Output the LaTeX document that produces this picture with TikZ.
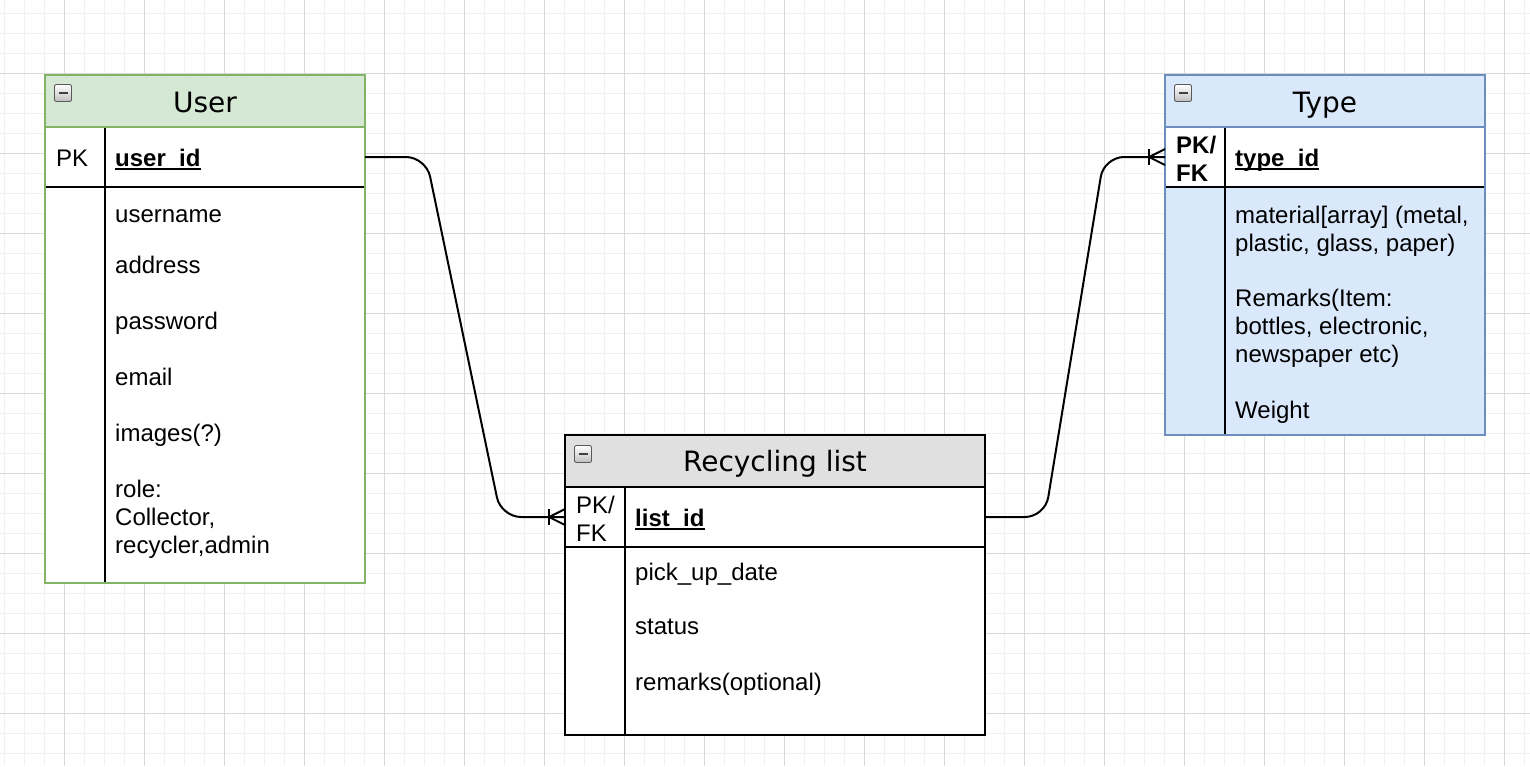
\documentclass[tikz,border=0pt]{standalone}
\usepackage{fontspec}
\setmainfont{Liberation Sans}
\newfontfamily\titlefont{DejaVu Sans}
\usetikzlibrary{calc}
\definecolor{ugreenfill}{HTML}{D5E8D4}
\definecolor{ugreenline}{HTML}{82B366}
\definecolor{tbluefill}{HTML}{DAE8FC}
\definecolor{tblueline}{HTML}{6C8EBF}
\definecolor{rgrayfill}{HTML}{E0E0E0}
\definecolor{gridminor}{HTML}{F1F1F1}
\definecolor{gridmajor}{HTML}{D9D9D9}
\newcommand\keyul[1]{\setbox0\hbox{\bfseries #1}\rlap{\rule[-3.6pt]{\wd0}{1.6pt}}\box0}
\begin{document}
\begin{tikzpicture}[x=1pt,y=-1pt,
  cell/.style={rectangle, inner sep=0pt, outer sep=0pt, anchor=north west, draw=none},
  ttl/.style={anchor=base, inner sep=0pt, font=\titlefont\fontsize{28}{33}\selectfont},
  txt/.style={anchor=base west, inner sep=0pt, font=\fontsize{24}{28}\selectfont},
  divider/.style={line width=2pt, black},
  conn/.style={line width=2pt, black, rounded corners=20pt},
  foot/.style={line width=2pt, black, line join=round},
  minusicon/.style={rectangle, rounded corners=2pt, minimum size=17pt, inner sep=0pt,
    draw=gray!70!black, line width=0.9pt, top color=white, bottom color=gray!50,
    path picture={\draw[line width=2.2pt, black!75]
      ([xshift=-4.5pt]path picture bounding box.center) --
      ([xshift=4.5pt]path picture bounding box.center);}},
]
\useasboundingbox (0,0) rectangle (1530,766);
\fill[white] (0,0) rectangle (1530,766);
% grid
\foreach \gx in {4,24,...,1524} \draw[gridminor, line width=1pt] (\gx,0) -- (\gx,766);
\foreach \gy in {13,33,...,753} \draw[gridminor, line width=1pt] (0,\gy+0.3) -- (1530,\gy+0.3);
\foreach \gx in {64,144,...,1504} \draw[gridmajor, line width=1pt] (\gx,0) -- (\gx,766);
\foreach \gy in {73,153,...,713} \draw[gridmajor, line width=1pt] (0,\gy+0.3) -- (1530,\gy+0.3);

% ---------- User ----------
\node[cell, fill=ugreenfill, minimum width=320pt, minimum height=52pt] (userhead) at (45,75) {};
\node[cell, fill=white, minimum width=320pt, minimum height=60pt] (userpk) at (45,127) {};
\node[cell, fill=white, minimum width=320pt, minimum height=396pt] (userbody) at (45,187) {};
\draw[divider] (userpk.south west) -- (userpk.south east);
\draw[divider] ($(userpk.north west)+(60,0)$) -- ($(userbody.south west)+(60,0)$);
\draw[line width=2pt, ugreenline] (userhead.north west) rectangle (userbody.south east);
\draw[line width=2pt, ugreenline] (userhead.south west) -- (userhead.south east);
\node[minusicon] (usericon) at (63,93) {};
\node[ttl] (usertitle) at (205,112.5) {User};
\node[txt] (userpkl) at (56,166) {PK};
\node[txt] (userid) at (115,166) {\keyul{user\_id}};
\node[txt] (uname) at (115,222) {username};
\node[txt] (uaddr) at (115,273) {address};
\node[txt] (upass) at (115,329) {password};
\node[txt] (umail) at (115,385) {email};
\node[txt] (uimg) at (115,441) {images(?)};
\node[txt] (urole) at (115,497) {role:};
\node[txt] (urole2) at (115,525) {Collector,};
\node[txt] (urole3) at (115,553) {recycler,admin};

% ---------- Type ----------
\node[cell, fill=tbluefill, minimum width=320pt, minimum height=52pt] (typehead) at (1165,75) {};
\node[cell, fill=white, minimum width=320pt, minimum height=60pt] (typepk) at (1165,127) {};
\node[cell, fill=tbluefill, minimum width=320pt, minimum height=248pt] (typebody) at (1165,187) {};
\draw[divider] (typepk.south west) -- (typepk.south east);
\draw[divider] ($(typepk.north west)+(60,0)$) -- ($(typebody.south west)+(60,0)$);
\draw[line width=2pt, tblueline] (typehead.north west) rectangle (typebody.south east);
\draw[line width=2pt, tblueline] (typehead.south west) -- (typehead.south east);
\node[minusicon] (typeicon) at (1183,93) {};
\node[ttl] (typetitle) at (1325,112.5) {Type};
\node[txt] (typepk1) at (1176,153.5) {\bfseries PK/};
\node[txt] (typepk2) at (1176,181) {\bfseries FK};
\node[txt] (typeid) at (1235,166) {\keyul{type\_id}};
\node[txt] (tmat1) at (1235,223) {material[array] (metal,};
\node[txt] (tmat2) at (1235,251) {plastic, glass, paper)};
\node[txt] (trem1) at (1235,306) {Remarks(Item:};
\node[txt] (trem2) at (1235,334) {bottles, electronic,};
\node[txt] (trem3) at (1235,362) {newspaper etc)};
\node[txt] (tweight) at (1235,418) {Weight};

% ---------- Recycling list ----------
\node[cell, fill=rgrayfill, minimum width=420pt, minimum height=52pt] (listhead) at (565,435) {};
\node[cell, fill=white, minimum width=420pt, minimum height=60pt] (listpk) at (565,487) {};
\node[cell, fill=white, minimum width=420pt, minimum height=188pt] (listbody) at (565,547) {};
\draw[divider] (listpk.south west) -- (listpk.south east);
\draw[divider] ($(listpk.north west)+(60,0)$) -- ($(listbody.south west)+(60,0)$);
\draw[line width=2pt, black] (listhead.north west) rectangle (listbody.south east);
\draw[line width=2pt, black] (listhead.south west) -- (listhead.south east);
\node[minusicon] (listicon) at (583,454) {};
\node[ttl] (listtitle) at (775,471.5) {Recycling list};
\node[txt] (listpk1) at (576,513.5) {PK/};
\node[txt] (listpk2) at (576,541) {FK};
\node[txt] (listid) at (635,526) {\keyul{list\_id}};
\node[txt] (lpick) at (635,580) {pick\_up\_date};
\node[txt] (lstat) at (635,634) {status};
\node[txt] (lrem) at (635,690) {remarks(optional)};

% ---------- connectors ----------
\coordinate (b1) at (426,157);
\coordinate (b2) at (501,517);
\coordinate (b3) at (1045,517);
\coordinate (b4) at (1104,157);
\draw[conn] (userpk.east) -- (b1) -- (b2) -- (listpk.west);
\draw[conn] (listpk.east) -- (b3) -- (b4) -- (typepk.west);
% crow's feet (one or many)
\draw[foot] ([xshift=-16pt,yshift=8pt]listpk.west) -- ([xshift=-16pt,yshift=-8pt]listpk.west);
\draw[foot] ([yshift=8pt]listpk.west) -- ([xshift=-16pt]listpk.west) -- ([yshift=-8pt]listpk.west);
\draw[foot] ([xshift=-16pt,yshift=8pt]typepk.west) -- ([xshift=-16pt,yshift=-8pt]typepk.west);
\draw[foot] ([yshift=8pt]typepk.west) -- ([xshift=-16pt]typepk.west) -- ([yshift=-8pt]typepk.west);
\end{tikzpicture}
\end{document}
